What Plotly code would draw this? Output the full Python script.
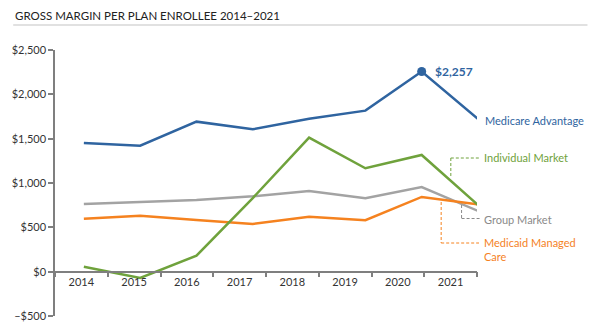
import plotly.graph_objects as go

years = [2014, 2015, 2016, 2017, 2018, 2019, 2020, 2021]
year_labels = [str(y) for y in years]
medicare_adv = [1450, 1420, 1692, 1606, 1725, 1816, 2257, 1722]
individual = [56, -70, 180, 830, 1512, 1166, 1316, 752]
group = [764, 790, 809, 850, 910, 828, 955, 685]
medicaid = [598, 632, 583, 538, 620, 580, 843, 758]
y_ticks = [-500, 0, 500, 1000, 1500, 2000, 2500]
y_tick_labels = ["\u2013$500", "$0", "$500", "$1,000", "$1,500", "$2,000", "$2,500"]

BLUE = "#2f64a0"
GREEN = "#6fa23c"
GRAY = "#a3a3a3"
ORANGE = "#f5821f"
AXIS = "#7f7f7f"
FONT = "Lato"

fig = go.Figure()
for name, vals, col in [("Group Market", group, GRAY),
                        ("Medicaid Managed Care", medicaid, ORANGE),
                        ("Individual Market", individual, GREEN),
                        ("Medicare Advantage", medicare_adv, BLUE)]:
    fig.add_trace(go.Scatter(x=years, y=vals, mode="lines", name=name,
                             line=dict(color=col, width=2.5), showlegend=False,
                             hoverinfo="skip"))

# peak marker
pk = medicare_adv.index(max(medicare_adv))
fig.add_trace(go.Scatter(x=[years[pk]], y=[medicare_adv[pk]], mode="markers",
                         marker=dict(color=BLUE, size=9), showlegend=False,
                         hoverinfo="skip", cliponaxis=False))

# dummy trace for category label axis
fig.add_trace(go.Scatter(x=year_labels, y=[None] * len(years), xaxis="x2",
                         mode="lines", showlegend=False, hoverinfo="skip"))

# plot area in pixels
L, R, T, B = 53, 477, 50, 316
W, H = R - L, B - T
# data axis: 2014 -> px 82, 2021 -> px 478
px_per_year = (478 - 82) / 7.0
x0 = 2014 - (82 - L) / px_per_year
x1 = 2021 + (R - 478) / px_per_year

fig.update_layout(
    width=601, height=335,
    margin=dict(l=L, r=601 - R, t=T, b=335 - B),
    paper_bgcolor="white", plot_bgcolor="white",
    font=dict(family=FONT, size=11, color="#333333"),
    xaxis=dict(visible=False, range=[x0, x1], fixedrange=True),
    xaxis2=dict(overlaying="x", type="category", categoryorder="array",
                categoryarray=year_labels, range=[-0.5, 7.5],
                anchor="free", position=500 / 3000, side="bottom",
                showline=True, linecolor=AXIS, linewidth=1.5,
                ticks="outside", ticklen=5, tickcolor=AXIS, tickwidth=1.5,
                tickson="boundaries", showgrid=False, zeroline=False,
                tickfont=dict(family=FONT, size=11, color="#333333")),
    yaxis=dict(range=[-500, 2500], tickvals=y_ticks, ticktext=y_tick_labels,
               showline=True, linecolor=AXIS, linewidth=1.5,
               ticks="outside", ticklen=5, tickcolor=AXIS, tickwidth=1.5,
               showgrid=False, zeroline=False,
               tickfont=dict(family=FONT, size=11, color="#333333")),
)

def px2x(px):
    return (px - L) / W

def py2y(py):
    return (B - py) / H

# title and underline
fig.add_annotation(text="GROSS MARGIN PER PLAN ENROLLEE 2014\u20132021",
                   xref="paper", yref="paper", x=px2x(11), y=py2y(15),
                   xanchor="left", yanchor="middle", showarrow=False,
                   font=dict(family=FONT, size=11.5, color="#222222"))
fig.add_shape(type="line", xref="paper", yref="paper",
              x0=px2x(11), x1=px2x(588), y0=py2y(25), y1=py2y(25),
              line=dict(color="#c4c4c4", width=1.2))

# peak label
fig.add_annotation(text="<b>$2,257</b>", x=years[pk], y=medicare_adv[pk],
                   xanchor="left", yanchor="middle", xshift=11, showarrow=False,
                   font=dict(family=FONT, size=12, color=BLUE))

labels = [
    ("Medicare Advantage", BLUE, 483, 120, None),
    ("Individual Market", GREEN, 482, 157, [(450.7, 176), (450.7, 158), (479, 158)]),
    ("Group Market", "#8a8a8a", 482, 219, [(461.5, 205), (461.5, 218.5), (480, 218.5)]),
    ("Medicaid Managed<br>Care", ORANGE, 482, 249, [(441, 202), (441, 243), (479, 243)]),
]
for text, col, lx, ly, path in labels:
    fig.add_annotation(text=text, xref="paper", yref="paper", x=px2x(lx), y=py2y(ly),
                       xanchor="left", yanchor="middle", showarrow=False, align="left",
                       font=dict(family=FONT, size=11, color=col))
    if path:
        for (ax, ay), (bx, by) in zip(path[:-1], path[1:]):
            fig.add_shape(type="line", xref="paper", yref="paper",
                          x0=px2x(ax), y0=py2y(ay), x1=px2x(bx), y1=py2y(by),
                          line=dict(color=col, width=1, dash="3px,2px"))

fig.write_html("out.html")
